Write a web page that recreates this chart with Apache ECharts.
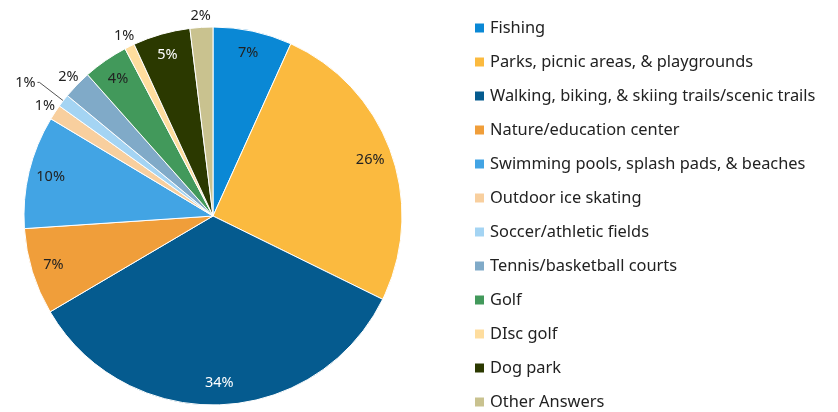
<!DOCTYPE html>
<html>
<head>
<meta charset="utf-8">
<script src="https://cdn.jsdelivr.net/npm/echarts@6/dist/echarts.min.js"></script>
<style>
  html, body { margin: 0; padding: 0; background: #fff; }
  #main { width: 838px; height: 412px; }
</style>
</head>
<body>
<div id="main"></div>
<script>
var categories = ['Fishing', 'Parks, picnic areas, & playgrounds', 'Walking, biking, & skiing trails/scenic trails',
  'Nature/education center', 'Swimming pools, splash pads, & beaches', 'Outdoor ice skating',
  'Soccer/athletic fields', 'Tennis/basketball courts', 'Golf', 'DIsc golf', 'Dog park', 'Other Answers'];
// slice sizes (percent)
var shares = [6.75, 25.5, 34.25, 7.4, 9.65, 1.3, 1.1, 2.45, 3.85, 0.85, 4.9, 1.95];
// percentages as printed on the chart
var printed = [7, 26, 34, 7, 10, 1, 1, 2, 4, 1, 5, 2];
var colors = ['#0A88D5', '#FBBA3F', '#055B8F', '#F09E3A', '#42A4E4', '#F8CF9E',
  '#A4D4F3', '#80AAC8', '#42995B', '#FEDD9E', '#2B3900', '#C9C28F'];
// where each label sits: in the slice, outside the rim, or pulled out with a leader line
var labelPlace = ['in', 'in', 'in', 'in', 'in', 'out', 'line', 'out', 'in', 'out', 'in', 'out'];
var whiteLabel = ['Walking, biking, & skiing trails/scenic trails', 'Dog park'];

var center = [213, 216];
var font = 'Noto Sans';

var myChart = echarts.init(document.getElementById('main'));

function pieData(fn) {
  return categories.map(function (c, i) { return fn(c, i); });
}
function pct(p) { return printed[p.dataIndex] + '%'; }

var labelText = { formatter: pct, fontFamily: font, fontSize: 14.5, color: '#222' };

option = {
  backgroundColor: '#fff',
  animation: false,
  legend: {
    orient: 'vertical',
    left: 473,
    top: 18,
    height: 395,
    padding: 0,
    icon: 'rect',
    itemWidth: 11,
    itemHeight: 11,
    itemGap: 14,
    data: categories,
    textStyle: { fontFamily: font, fontSize: 16.4, color: '#222', lineHeight: 20 }
  },
  series: [
    {
      name: 'main',
      type: 'pie',
      center: center,
      radius: [0, 189],
      startAngle: 90,
      clockwise: true,
      silent: true,
      itemStyle: { borderColor: '#fff', borderWidth: 1 },
      label: { show: false },
      labelLine: { show: false },
      data: pieData(function (c, i) {
        var d = { name: c, value: shares[i], itemStyle: { color: colors[i] } };
        if (labelPlace[i] === 'line') {
          d.label = echarts.util.extend({ show: true, position: 'outside', distanceToLabelLine: 2 }, labelText);
          d.labelLine = { show: true, length: 30, length2: 2, lineStyle: { color: '#555', width: 1 } };
        }
        return d;
      })
    },
    {
      name: 'inner labels',
      type: 'pie',
      center: center,
      radius: [139, 189],
      startAngle: 90,
      silent: true,
      avoidLabelOverlap: false,
      itemStyle: { color: 'transparent' },
      label: echarts.util.extend({ position: 'inside' }, labelText),
      labelLine: { show: false },
      data: pieData(function (c, i) {
        return {
          name: c, value: shares[i],
          label: {
            show: labelPlace[i] === 'in',
            color: whiteLabel.indexOf(c) >= 0 ? '#fff' : '#222'
          }
        };
      })
    },
    {
      name: 'outer labels',
      type: 'pie',
      center: center,
      radius: [186, 210],
      startAngle: 90,
      silent: true,
      avoidLabelOverlap: false,
      itemStyle: { color: 'transparent' },
      label: echarts.util.extend({ position: 'inside' }, labelText),
      labelLine: { show: false },
      data: pieData(function (c, i) {
        return { name: c, value: shares[i], label: { show: labelPlace[i] === 'out' } };
      })
    }
  ]
};

myChart.setOption(option);
</script>
</body>
</html>
